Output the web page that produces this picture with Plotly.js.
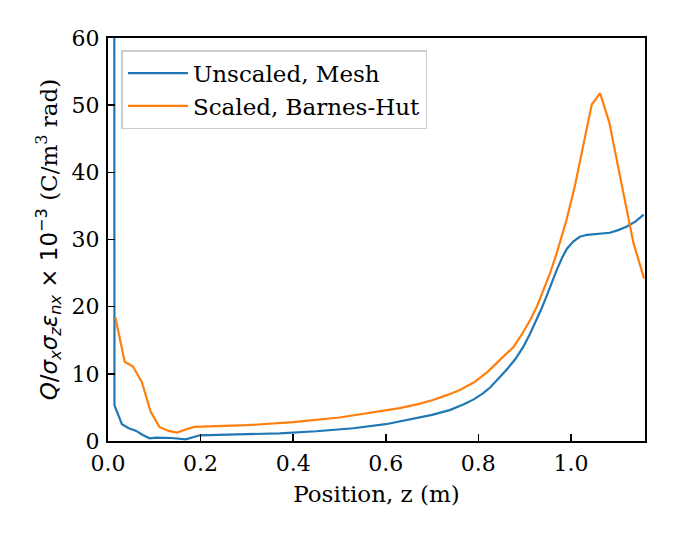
<!DOCTYPE html>
<html>
<head>
<meta charset="utf-8">
<script src="https://cdn.plot.ly/plotly-3.0.1.min.js"></script>
<style>
  html, body { margin: 0; padding: 0; background: #fff; }
  #plot { width: 675px; height: 536px; }
</style>
</head>
<body>
<div id="plot"></div>
<script>
// Unscaled, Mesh
const meshZ = [0.012, 0.014, 0.03, 0.045, 0.061, 0.075, 0.09, 0.104, 0.137, 0.168, 0.198,
  0.3, 0.371, 0.45, 0.53, 0.6, 0.652, 0.7, 0.738, 0.77, 0.79, 0.81, 0.826, 0.84, 0.861,
  0.88, 0.897, 0.912, 0.926, 0.937, 0.947, 0.958, 0.969, 0.981, 0.991, 1.005, 1.019,
  1.035, 1.048, 1.066, 1.084, 1.102, 1.12, 1.14, 1.157];
const meshQ = [300, 5.3, 2.5, 1.9, 1.5, 0.9, 0.4, 0.5, 0.45, 0.25, 0.85,
  1.0, 1.13, 1.45, 1.9, 2.5, 3.2, 3.9, 4.6, 5.5, 6.2, 7.1, 8.0, 9.0, 10.6,
  12.2, 14.0, 16.0, 18.0, 19.8, 21.5, 23.5, 25.4, 27.3, 28.6, 29.7, 30.4,
  30.7, 30.8, 30.9, 31.0, 31.4, 31.9, 32.7, 33.7];

// Scaled, Barnes-Hut
const bhZ = [0.016, 0.036, 0.054, 0.073, 0.092, 0.111, 0.131, 0.149, 0.169, 0.187,
  0.3, 0.4, 0.5, 0.6, 0.63, 0.67, 0.702, 0.735, 0.76, 0.79, 0.82, 0.85, 0.876, 0.895,
  0.912, 0.927, 0.94, 0.955, 0.969, 0.99, 1.008, 1.025, 1.045, 1.063, 1.083, 1.10,
  1.117, 1.135, 1.158];
const bhQ = [18.4, 11.8, 11.1, 8.8, 4.4, 2.1, 1.5, 1.25, 1.75, 2.1,
  2.35, 2.8, 3.5, 4.5, 4.9, 5.5, 6.1, 6.9, 7.6, 8.7, 10.3, 12.3, 14.0, 16.0,
  18.0, 20.1, 22.3, 25.0, 27.9, 32.8, 37.8, 43.5, 50.1, 51.8, 47.4, 41.5,
  35.5, 29.5, 24.2];

const xTicks = [0, 0.2, 0.4, 0.6, 0.8, 1.0];
const xTickText = ["0.0", "0.2", "0.4", "0.6", "0.8", "1.0"];
const yTicks = [0, 10, 20, 30, 40, 50, 60];

const serif = "DejaVu Serif, serif";
const mathFont = "DejaVu Sans";

const traces = [
  { x: meshZ, y: meshQ, type: "scatter", mode: "lines", name: "Unscaled, Mesh",
    line: { color: "#1f77b4", width: 2.2 } },
  { x: bhZ, y: bhQ, type: "scatter", mode: "lines", name: "Scaled, Barnes-Hut",
    line: { color: "#ff7f0e", width: 2.2 } }
];

const m = (s) => `<span style="font-family:${mathFont}">${s}</span>`;
const yTitle = m("<i>Q</i>/<i>σ</i><sub><i>x</i></sub><i>σ</i><sub><i>z</i></sub><i>ε</i><sub><i>nx</i></sub> × 10<sup>−3</sup>") +
  " (C/m<sup>3</sup> rad)";

const layout = {
  width: 675, height: 536,
  margin: { l: 108, r: 30, t: 38, b: 95 },
  paper_bgcolor: "#fff", plot_bgcolor: "#fff",
  font: { family: serif, size: 22, color: "#000" },
  showlegend: true,
  legend: {
    x: 0.025, y: 0.97, xanchor: "left", yanchor: "top",
    bordercolor: "#cccccc", borderwidth: 1.5, bgcolor: "rgba(255,255,255,0.8)",
    font: { family: serif, size: 23 }, tracegroupgap: 0, itemwidth: 60
  },
  xaxis: {
    range: [0, 1.16], tickvals: xTicks, ticktext: xTickText,
    ticks: "inside", ticklen: 7, tickwidth: 1.5, tickcolor: "#000",
    ticklabelstandoff: 2,
    showline: true, linewidth: 2, linecolor: "#000", mirror: true,
    showgrid: false, zeroline: false,
    tickfont: { family: serif, size: 22 },
    title: { text: "Position, z (m)", font: { family: serif, size: 23 }, standoff: 10 }
  },
  yaxis: {
    range: [0, 60], tickvals: yTicks,
    ticks: "inside", ticklen: 7, tickwidth: 1.5, tickcolor: "#000",
    ticklabelstandoff: 2,
    showline: true, linewidth: 2, linecolor: "#000", mirror: true,
    showgrid: false, zeroline: false,
    tickfont: { family: serif, size: 22 },
    title: { text: yTitle, font: { family: serif, size: 23 }, standoff: 8 }
  }
};

Plotly.newPlot("plot", traces, layout, { staticPlot: true });
</script>
</body>
</html>
